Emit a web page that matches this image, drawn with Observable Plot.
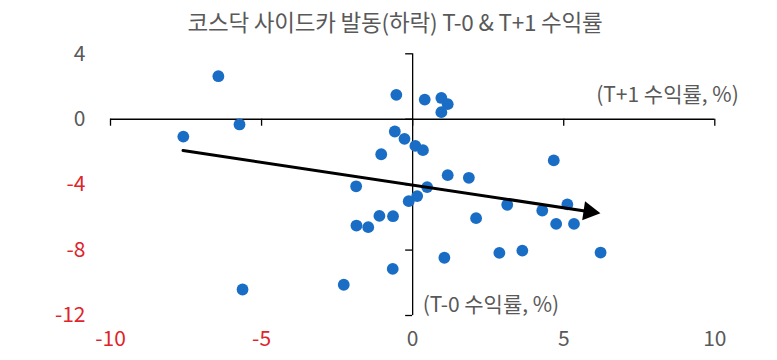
<!DOCTYPE html>
<html><head><meta charset="utf-8">
<script src="https://cdn.jsdelivr.net/npm/d3@7"></script>
<script src="https://cdn.jsdelivr.net/npm/@observablehq/plot@0.6"></script>
<style>
body{margin:0;background:#fff;font-family:"Noto Sans CJK KR","Noto Sans",sans-serif;}
#title{width:777px;height:36px;line-height:42px;text-align:center;font-size:22.5px;color:#595959;padding-left:13px;box-sizing:border-box;font-weight:400;letter-spacing:-0.2px}
</style></head><body>
<div id="title">코스닥 사이드카 발동(하락) T-0 &amp; T+1 수익률</div>
<div id="chart"></div>
<script>
// x: T+1 return (%), y: T-0 return (%)
const t1Return = [-6.43,-5.73,-7.59,-0.54,-0.59,-0.27,-1.04,0.09,0.34,-1.87,0.40,0.95,1.16,0.95,4.67,1.16,1.86,0.48,0.15,-0.13,-0.65,2.10,3.13,4.29,5.12,4.75,5.34,1.05,2.87,3.63,6.22,-0.66,-1.86,-1.47,-1.10,-2.28,-5.63];
const t0Return = [2.63,-0.32,-1.06,1.49,-0.75,-1.20,-2.14,-1.63,-1.89,-4.10,1.20,1.30,0.92,0.43,-2.52,-3.42,-3.58,-4.15,-4.70,-5.01,-5.93,-6.05,-5.23,-5.58,-5.21,-6.40,-6.40,-8.47,-8.17,-8.03,-8.15,-9.15,-6.50,-6.60,-5.91,-10.12,-10.41];
const xTicks = [-10,-5,0,5,10];
const yTicks = [4,0,-4,-8,-12];
const trendX = [-7.60, 5.92];
const trendY = [-1.91, -5.67];
const xAxisTitle = "(T+1 수익률, %)";
const yAxisTitle = "(T-0 수익률, %)";

const RED = "#e0242a", GRAY = "#595959", BLUE = "#1a6dc4";
const points = t1Return.map((x, i) => ({x, y: t0Return[i]}));
const trend = trendX.map((x, i) => ({x, y: trendY[i]}));
const fmt = d => String(d);

const chart = Plot.plot({
  width: 777, height: 324,
  marginLeft: 110, marginRight: 62.7, marginTop: 17.3, marginBottom: 45,
  x: {domain: [-10, 10]},
  y: {domain: [-12, 4]},
  style: {fontFamily: '"Noto Sans CJK KR","Noto Sans",sans-serif', fontSize: "21px", color: GRAY, background: "#fff", overflow: "visible"},
  marks: [
    Plot.axisX(xTicks.filter(d => d < 0), {tickSize: 0, tickPadding: 16, color: RED, tickFormat: fmt, label: null}),
    Plot.axisX(xTicks.filter(d => d >= 0), {tickSize: 0, tickPadding: 16, color: GRAY, tickFormat: fmt, label: null}),
    Plot.axisY(yTicks.filter(d => d < 0), {tickSize: 0, tickPadding: 25, color: RED, tickFormat: fmt, label: null}),
    Plot.axisY(yTicks.filter(d => d >= 0), {tickSize: 0, tickPadding: 25, color: GRAY, tickFormat: fmt, label: null}),
    Plot.ruleY([0], {x1: xTicks[0], x2: xTicks[xTicks.length - 1], stroke: "#000", strokeWidth: 1.3}),
    Plot.ruleX([0], {y1: yTicks[yTicks.length - 1], y2: yTicks[0], stroke: "#000", strokeWidth: 1.3}),
    Plot.ruleX(xTicks, {x: d => d, y1: 0, y2: 0, insetBottom: -7, stroke: "#000", strokeWidth: 1.3}),
    Plot.ruleY(yTicks, {y: d => d, x1: 0, x2: 0, insetLeft: -7, stroke: "#000", strokeWidth: 1.3}),
    Plot.dot(points, {x: "x", y: "y", r: 5.9, fill: BLUE, stroke: "none"}),
    Plot.line(trend, {x: "x", y: "y", stroke: "#000", strokeWidth: 3, markerEnd: "arrow"}),
    Plot.text([xAxisTitle], {text: d => d, frameAnchor: "top-right", textAnchor: "end", lineAnchor: "middle", dx: 24, dy: 41, fill: GRAY}),
    Plot.text([yAxisTitle], {text: d => d, frameAnchor: "bottom", textAnchor: "start", lineAnchor: "middle", dx: 10, dy: -10, fill: GRAY})
  ]
});
// filled triangular arrow head
d3.select(chart).selectAll("marker")
  .attr("viewBox", "-5 -5 10 10")
  .attr("overflow", "visible")
  .attr("fill", "#000").attr("stroke", "none")
  .selectAll("path").attr("d", "M-4,-4.75L4.5,0L-4,4.75Z");
document.getElementById("chart").appendChild(chart);
</script>
</body></html>
